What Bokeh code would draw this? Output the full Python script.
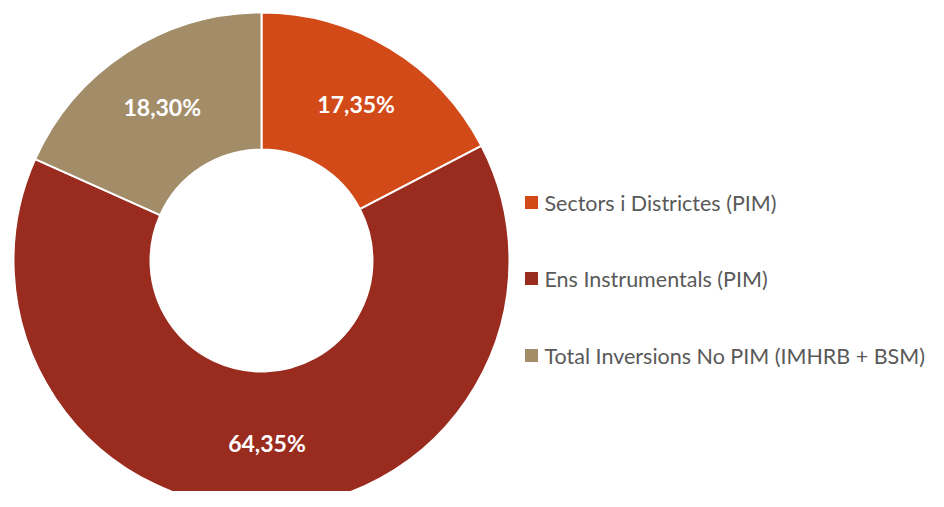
import numpy as np
from bokeh.plotting import figure
from bokeh.models import ColumnDataSource, Range1d
from bokeh.core.properties import value
from bokeh.embed import file_html
from bokeh.resources import INLINE

# ---- data ----
categories = ["Sectors  i Districtes (PIM)", "Ens Instrumentals (PIM)",
              "Total Inversions No PIM (IMHRB + BSM)"]
shares = [17.35, 64.35, 18.30]
share_labels = ["17,35%", "64,35%", "18,30%"]
colors = ["#D24A18", "#9A2B1F", "#A38D69"]

W, H = 928, 491
p = figure(width=W, height=H, output_backend="svg", toolbar_location=None,
           x_range=Range1d(0, W), y_range=Range1d(-H, 0),
           min_border=0)
p.axis.visible = False
p.grid.visible = False
p.outline_line_color = None

cx, cy = 261, -260
r_out, r_in = 248, 111

frac = np.array(shares) / np.sum(shares)
cum = np.concatenate([[0], np.cumsum(frac)])
start = np.pi / 2 - 2 * np.pi * cum[:-1]
end = np.pi / 2 - 2 * np.pi * cum[1:]
mid = (start + end) / 2
r_lab = (r_out + r_in) / 2 + 3

src = ColumnDataSource(dict(start=start, end=end, color=colors, cat=categories,
                            lx=cx + r_lab * np.cos(mid), ly=cy + r_lab * np.sin(mid),
                            lab=share_labels))
p.annular_wedge(x=cx, y=cy, inner_radius=r_in, outer_radius=r_out,
                start_angle="start", end_angle="end", direction="clock",
                fill_color="color", line_color="white", line_width=2, source=src)
p.text(x="lx", y="ly", text="lab", source=src, text_color="white",
       text_font=value("Lato"), text_font_style="bold", text_font_size="23px",
       text_align="center", text_baseline="middle")

# legend (manual)
leg_y = [-202, -278, -355]
lsrc = ColumnDataSource(dict(y=leg_y, color=colors, cat=categories))
p.rect(x=531, y="y", width=13, height=13, fill_color="color", line_color=None, source=lsrc)
p.text(x=544, y="y", text="cat", source=lsrc, text_color="#595959",
       text_font=value("Lato"), text_font_size="21.5px",
       text_align="left", text_baseline="middle")

open("out.html", "w").write(file_html(p, INLINE))
